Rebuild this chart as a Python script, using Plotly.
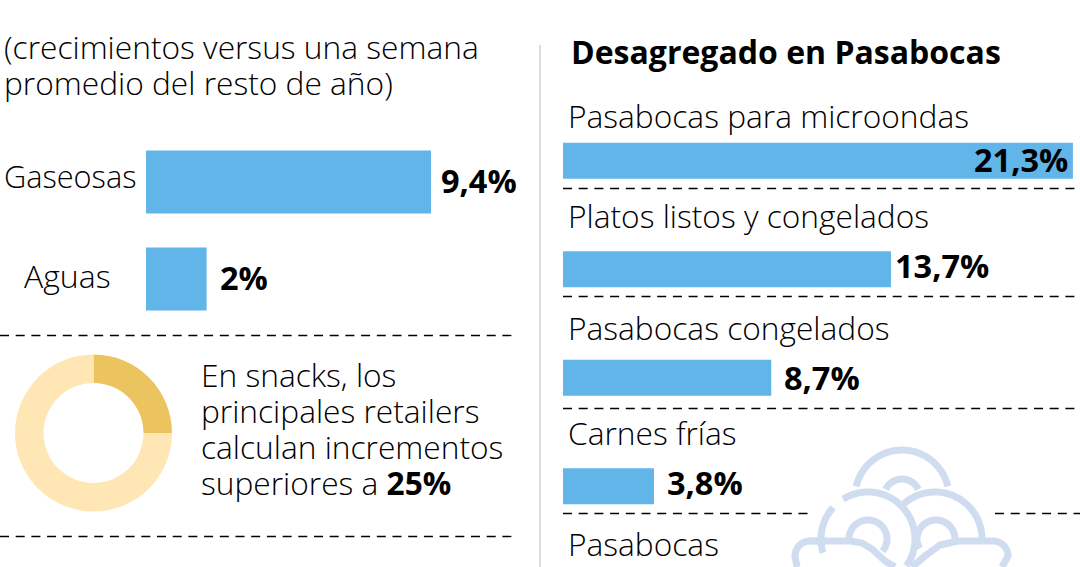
import numpy as np
import plotly.graph_objects as go

W, H = 1080, 567
FONT = "Open Sans"
BLUE = "#62b5e8"
ICON = "#d0ddf1"

# Growth of drinks
drink_labels = ["Gaseosas", "Aguas"]
drink_values = [9.4, 2.0]
drink_text = ["9,4%", "2%"]

# Snack retailers donut
donut_labels = ["Incremento", "Resto"]
donut_values = [25, 75]
donut_colors = ["#ecc45f", "#fee6b5"]

# Snack breakdown
snack_labels = ["Pasabocas para microondas", "Platos listos y congelados",
                "Pasabocas congelados", "Carnes frías"]
snack_values = [21.3, 13.7, 8.7, 3.8]
snack_text = ["21,3%", "13,7%", "8,7%", "3,8%"]


def fx(px):
    return px / W


def fy(px):
    return 1 - px / H


fig = go.Figure()

fig.add_trace(go.Bar(
    x=drink_values, y=drink_labels, orientation="h", width=0.65,
    marker=dict(color=BLUE, line=dict(width=0)),
    xaxis="x", yaxis="y", hoverinfo="skip",
))
fig.add_trace(go.Bar(
    x=snack_values, y=snack_labels, orientation="h", width=0.33,
    marker=dict(color=BLUE, line=dict(width=0)),
    xaxis="x2", yaxis="y2", hoverinfo="skip",
))
fig.add_trace(go.Pie(
    values=donut_values, labels=donut_labels, hole=0.637, sort=False,
    direction="clockwise", rotation=0, textinfo="none", hoverinfo="skip",
    marker=dict(colors=donut_colors, line=dict(width=0)),
    domain=dict(x=[fx(15), fx(172)], y=[fy(512), fy(354)]),
    showlegend=False,
))


def note(text, x, y, size=31.7, anchor="left", weight=300):
    fig.add_annotation(text=text, xref="paper", yref="paper", x=fx(x), y=fy(y),
                       xanchor=anchor, yanchor="middle", showarrow=False,
                       borderpad=0, align=anchor,
                       font=dict(family=FONT, size=size, color="#000", weight=weight))


def value_label(text, value, category, xaxis, yaxis, xshift, yshift, anchor="left"):
    fig.add_annotation(text=text, xref=xaxis, yref=yaxis, x=value, y=category,
                       xanchor=anchor, yanchor="middle", showarrow=False,
                       xshift=xshift, yshift=yshift, borderpad=0,
                       font=dict(family=FONT, size=32.5, color="#000", weight=700))


for label, value, name, dx, dy in zip(drink_text, drink_values, drink_labels, [9, 12], [2, 2]):
    value_label(label, value, name, "x", "y", dx, dy)
for label, value, name, dx, dy in zip(snack_text[1:], snack_values[1:], snack_labels[1:],
                                      [3, 12, 12], [4, 0, 4]):
    value_label(label, value, name, "x2", "y2", dx, dy)
value_label(snack_text[0], snack_values[0], snack_labels[0], "x2", "y2", -4, 1, "right")

# Left column heading and row names
note("(crecimientos versus una semana", 3, 46.5)
note("promedio del resto de año)", 3, 82.5)
note(drink_labels[0], 3, 176.5, 30.7)
note(drink_labels[1], 23, 275.5, 32)

# Donut caption
note("En snacks, los", 200, 374.5)
note("principales retailers", 200, 410.5)
note("calculan incrementos", 200, 446.5)
note("superiores a <b>25%</b>", 200, 482.5)

# Right column heading and row names
note("Desagregado en Pasabocas", 570, 51, 32, weight=700)
for name, yc in zip(snack_labels, [115, 215, 327, 432]):
    note(name, 567, yc)
note("Pasabocas", 567, 543)


def rule(x0, x1, y, dash="9px,6.7px", color="#000", width=1.3):
    fig.add_shape(type="line", xref="paper", yref="paper",
                  x0=fx(x0), x1=fx(x1), y0=fy(y), y1=fy(y),
                  line=dict(color=color, width=width, dash=dash))


for y in [335.5, 536.5]:
    rule(0, 518, y)
for y in [188.5, 296.5, 408.5]:
    rule(563, 1080, y)
rule(563, 812, 513.5)
rule(995, 1080, 513.5)
fig.add_shape(type="line", xref="paper", yref="paper", x0=fx(540), x1=fx(540),
              y0=fy(45), y1=0, line=dict(color="#c4c4c4", width=1.2))


def stroke(points):
    d = "M" + " L".join(f"{fx(x):.5f},{fy(y):.5f}" for x, y in points)
    fig.add_shape(type="path", path=d, xref="paper", yref="paper",
                  line=dict(color=ICON, width=7), layer="below")


def arc(cx, cy, r, a0, a1):
    # Angles in degrees, measured clockwise from the +x direction on screen
    return [(cx + r * np.cos(np.radians(a)), cy + r * np.sin(np.radians(a)))
            for a in np.linspace(a0, a1, 50)]


# Snack bowl pictogram
stroke(arc(902, 497, 47, 193, 347))
stroke(arc(902, 497, 18, 205, 335))
stroke(arc(868, 539, 47, 238, 395))
stroke(arc(868, 539, 47, 163, 222))
stroke(arc(868, 539, 19, 175, 400))
stroke(arc(935, 539, 47, 228, 360))
stroke(arc(936, 539, 19, 150, 360))
stroke([(820, 541), (810, 541)] + arc(810, 556, 15, 270, 180) + [(797, 567)])
stroke([(810, 541), (850, 541), (862, 543), (872, 549), (885, 561), (895, 567)])
stroke([(912, 567), (925, 556), (940, 545), (958, 541), (993, 541)]
       + arc(993, 556, 15, 270, 360) + [(1002, 567)])

fig.update_layout(
    width=W, height=H, margin=dict(l=0, r=0, t=0, b=0), autosize=False,
    paper_bgcolor="#fff", plot_bgcolor="rgba(0,0,0,0)", showlegend=False,
    barmode="overlay",
    font=dict(family=FONT, color="#000"),
    xaxis=dict(domain=[fx(146), fx(540)], range=[0, 394 / 30.32], visible=False),
    yaxis=dict(domain=[fy(327.5), fy(133.5)], range=[1.5, -0.5], visible=False,
               type="category", categoryorder="array", categoryarray=drink_labels),
    xaxis2=dict(domain=[fx(563), 1], range=[0, 517 / 23.94], visible=False),
    yaxis2=dict(domain=[fy(540.5), fy(106.5)], range=[3.5, -0.5], visible=False,
                type="category", categoryorder="array", categoryarray=snack_labels),
)

fig.write_html("out.html", config=dict(displayModeBar=False))
